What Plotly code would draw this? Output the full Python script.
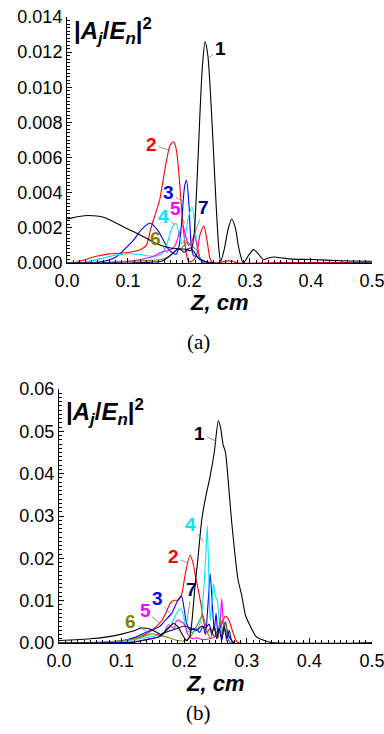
import plotly.graph_objects as go

# ---------------- data: panel (a) ----------------
z1a = [0.0, 0.02, 0.035, 0.06, 0.09, 0.12, 0.15, 0.17, 0.185, 0.195, 0.203, 0.208, 0.213, 0.218, 0.222, 0.2265, 0.231, 0.235, 0.24, 0.245, 0.249, 0.252, 0.258, 0.264, 0.27, 0.276, 0.282, 0.289, 0.297, 0.306, 0.314, 0.322, 0.33, 0.339, 0.35, 0.37, 0.4, 0.45, 0.5]
v1a = [0.0025, 0.00265, 0.0027, 0.0026, 0.0021, 0.0016, 0.00105, 0.00085, 0.0008, 0.00078, 0.0007, 0.0015, 0.0045, 0.0085, 0.0112, 0.0126, 0.0118, 0.0098, 0.0065, 0.003, 0.0008, 0.0001, 0.0008, 0.0019, 0.0025, 0.002, 0.0008, 0.0, 0.0004, 0.00076, 0.0005, 0.0002, 0.00028, 0.00034, 0.0003, 0.00022, 0.0002, 0.00013, 0.0001]

z2a = [0.0, 0.01, 0.03, 0.05, 0.07, 0.1, 0.12, 0.13, 0.137, 0.145, 0.152, 0.158, 0.163, 0.169, 0.175, 0.179, 0.183, 0.187, 0.191, 0.195, 0.199, 0.205, 0.212, 0.218, 0.2245, 0.23, 0.235, 0.24, 0.26, 0.27, 0.28, 0.35, 0.45, 0.5]
v2a = [0.0, 0.0, 0.0002, 0.0004, 0.00052, 0.0006, 0.00075, 0.001, 0.0019, 0.0028, 0.0036, 0.0048, 0.0058, 0.0067, 0.0069, 0.0065, 0.0053, 0.0035, 0.0019, 0.0007, 0.0001, 0.0001, 0.0004, 0.0016, 0.0021, 0.0012, 0.0002, 0.0, 0.0001, 0.00012, 0.0, 0.00003, 0.00002, 0.0]

z3a = [0.0, 0.03, 0.06, 0.081, 0.095, 0.109, 0.122, 0.136, 0.148, 0.158, 0.166, 0.174, 0.179, 0.184, 0.189, 0.193, 0.196, 0.2, 0.204, 0.208, 0.212, 0.218, 0.225, 0.235, 0.5]
v3a = [0.0, 0.0, 0.0001, 0.00036, 0.0008, 0.0013, 0.0019, 0.00228, 0.0019, 0.0013, 0.0008, 0.00055, 0.0005, 0.001, 0.0028, 0.0044, 0.0047, 0.0033, 0.0009, 0.0004, 0.0004, 0.0002, 0.0001, 0.0, 0.0]

z4a = [0.0, 0.02, 0.05, 0.08, 0.1, 0.12, 0.14, 0.155, 0.165, 0.172, 0.1787, 0.184, 0.188, 0.193, 0.199, 0.205, 0.209, 0.213, 0.218, 0.225, 0.5]
v4a = [0.0, 0.0, 0.0002, 0.00045, 0.00053, 0.00048, 0.00038, 0.0005, 0.0012, 0.002, 0.00226, 0.0016, 0.0011, 0.0014, 0.0026, 0.0032, 0.0024, 0.001, 0.0002, 0.0, 0.0]

z5a = [0.0, 0.05, 0.1, 0.12, 0.14, 0.155, 0.165, 0.172, 0.178, 0.184, 0.19, 0.195, 0.199, 0.204, 0.209, 0.214, 0.219, 0.225, 0.5]
v5a = [0.0, 0.0, 0.0001, 0.0002, 0.00035, 0.00062, 0.0007, 0.0008, 0.00104, 0.0017, 0.0021, 0.0015, 0.001, 0.0012, 0.00155, 0.0009, 0.0002, 0.0, 0.0]

z6a = [0.0, 0.05, 0.1, 0.136, 0.155, 0.168, 0.178, 0.186, 0.192, 0.197, 0.203, 0.2125, 0.218, 0.225, 0.5]
v6a = [0.0, 0.0, 0.0001, 0.00015, 0.0002, 0.0004, 0.0007, 0.0008, 0.001, 0.0012, 0.001, 0.00074, 0.0003, 0.0, 0.0]

z7a = [0.0, 0.1, 0.14, 0.155, 0.165, 0.175, 0.182, 0.187, 0.192, 0.198, 0.203, 0.209, 0.215, 0.222, 0.23, 0.24, 0.5]
v7a = [0.0, 0.0, 0.00005, 0.0001, 0.0003, 0.0006, 0.0008, 0.00075, 0.0006, 0.0008, 0.00085, 0.0006, 0.0003, 0.00015, 0.00005, 0.0, 0.0]

# ---------------- data: panel (b) ----------------
z1b = [0.0, 0.05, 0.08, 0.1, 0.12, 0.13, 0.145, 0.155, 0.163, 0.173, 0.183, 0.19, 0.197, 0.204, 0.209, 0.213, 0.217, 0.222, 0.228, 0.235, 0.241, 0.248, 0.2545, 0.258, 0.262, 0.266, 0.27, 0.275, 0.28, 0.286, 0.292, 0.298, 0.305, 0.315, 0.326, 0.34, 0.5]
v1b = [0.0006, 0.001, 0.0015, 0.0021, 0.0029, 0.0035, 0.0033, 0.0026, 0.002, 0.0033, 0.0046, 0.0038, 0.002, 0.0005, 0.0015, 0.006, 0.013, 0.02, 0.029, 0.035, 0.039, 0.045, 0.0525, 0.051, 0.047, 0.045, 0.039, 0.03, 0.0225, 0.015, 0.0112, 0.0065, 0.0042, 0.0015, 0.0007, 0.0001, 0.0]

z2b = [0.0, 0.06, 0.1, 0.12, 0.14, 0.155, 0.165, 0.172, 0.178, 0.184, 0.19, 0.196, 0.202, 0.2093, 0.214, 0.219, 0.2226, 0.227, 0.2306, 0.236, 0.242, 0.248, 0.254, 0.26, 0.2655, 0.27, 0.2735, 0.279, 0.285, 0.5]
v2b = [0.0, 0.0, 0.0004, 0.001, 0.0022, 0.0038, 0.0055, 0.0075, 0.0095, 0.0101, 0.0101, 0.0115, 0.0165, 0.0208, 0.019, 0.015, 0.0125, 0.009, 0.0054, 0.0025, 0.0035, 0.0015, 0.003, 0.0045, 0.0063, 0.0058, 0.0046, 0.002, 0.0002, 0.0]

z3b = [0.0, 0.05, 0.1, 0.12, 0.14, 0.16, 0.17, 0.18, 0.19, 0.196, 0.2, 0.204, 0.21, 0.218, 0.225, 0.23, 0.234, 0.238, 0.2415, 0.245, 0.248, 0.251, 0.254, 0.257, 0.26, 0.263, 0.266, 0.27, 0.274, 0.28, 0.5]
v3b = [0.0, 0.0, 0.0005, 0.0013, 0.0026, 0.0038, 0.0054, 0.007, 0.0101, 0.011, 0.008, 0.0046, 0.003, 0.0035, 0.0025, 0.004, 0.002, 0.009, 0.0164, 0.009, 0.003, 0.007, 0.0015, 0.005, 0.001, 0.004, 0.005, 0.002, 0.001, 0.0, 0.0]

z4b = [0.0, 0.08, 0.12, 0.15, 0.165, 0.1775, 0.186, 0.1935, 0.199, 0.204, 0.212, 0.22, 0.226, 0.231, 0.235, 0.237, 0.2395, 0.2415, 0.2445, 0.2468, 0.25, 0.253, 0.257, 0.261, 0.265, 0.27, 0.275, 0.5]
v4b = [0.0, 0.0002, 0.0008, 0.0016, 0.0022, 0.0038, 0.0065, 0.0081, 0.0065, 0.003, 0.0025, 0.003, 0.005, 0.012, 0.022, 0.0276, 0.015, 0.0054, 0.01, 0.014, 0.011, 0.0101, 0.0038, 0.002, 0.003, 0.001, 0.0, 0.0]

z5b = [0.0, 0.1, 0.12, 0.14, 0.16, 0.168, 0.175, 0.18, 0.184, 0.188, 0.193, 0.2, 0.206, 0.213, 0.22, 0.23, 0.24, 0.25, 0.256, 0.26, 0.263, 0.266, 0.27, 0.5]
v5b = [0.0, 0.0, 0.0003, 0.0008, 0.0015, 0.0025, 0.0043, 0.0038, 0.0034, 0.0054, 0.0052, 0.0045, 0.002, 0.001, 0.0012, 0.0008, 0.001, 0.0015, 0.003, 0.0105, 0.004, 0.0025, 0.0, 0.0]

z6b = [0.0, 0.08, 0.12, 0.14, 0.15, 0.16, 0.17, 0.18, 0.19, 0.2, 0.21, 0.22, 0.2297, 0.236, 0.242, 0.248, 0.254, 0.258, 0.262, 0.266, 0.27, 0.275, 0.5]
v6b = [0.0, 0.0003, 0.001, 0.0018, 0.0022, 0.0018, 0.0015, 0.001, 0.0006, 0.0005, 0.0015, 0.004, 0.0066, 0.003, 0.001, 0.004, 0.001, 0.006, 0.002, 0.005, 0.001, 0.0, 0.0]

z7b = [0.0, 0.12, 0.14, 0.16, 0.17, 0.18, 0.19, 0.2, 0.21, 0.22, 0.228, 0.234, 0.24, 0.244, 0.248, 0.252, 0.256, 0.26, 0.264, 0.268, 0.272, 0.278, 0.5]
v7b = [0.0, 0.0002, 0.0008, 0.0015, 0.0025, 0.003, 0.0035, 0.004, 0.0035, 0.003, 0.004, 0.0035, 0.0045, 0.002, 0.004, 0.001, 0.0035, 0.0005, 0.004, 0.001, 0.003, 0.0, 0.0]

series_names = ["1", "2", "3", "4", "5", "6", "7"]
colors = ["#000000", "#ff0000", "#0000ff", "#00e5ff", "#ff00ff", "#808000", "#000080"]

# label positions (label z, label v, curve z, curve v)
labels_a = [(0.251, 0.0122, 0.2317, 0.01165), (0.139, 0.00677, 0.169, 0.0064),
            (0.167, 0.0040, 0.190, 0.00349), (0.159, 0.00264, 0.177, 0.00216),
            (0.1787, 0.0031, 0.1934, 0.00226), (0.1459, 0.0014, 0.166, 0.00055),
            (0.2246, 0.00316, 0.2098, 0.0017)]
labels_b = [(0.2252, 0.0495, 0.252, 0.0476), (0.1837, 0.0204, 0.2066, 0.0188),
            (0.157, 0.0106, 0.1773, 0.007), (0.2104, 0.0279, 0.2316, 0.0239),
            (0.1374, 0.0076, 0.1613, 0.0046), (0.115, 0.005, 0.1454, 0.0023),
            (0.212, 0.0127, 0.204, 0.0046)]

series_a = [(z1a, v1a), (z2a, v2a), (z3a, v3a), (z4a, v4a), (z5a, v5a), (z6a, v6a), (z7a, v7a)]
series_b = [(z1b, v1b), (z2b, v2b), (z3b, v3b), (z4b, v4b), (z5b, v5b), (z6b, v6b), (z7b, v7b)]

fig = go.Figure()
order = [1, 2, 3, 4, 5, 6, 0]
for i in order:
    z, v = series_a[i]
    fig.add_trace(go.Scatter(x=z, y=v, mode="lines", xaxis="x", yaxis="y",
                             line=dict(color=colors[i], width=1.1, shape="spline", smoothing=0.7),
                             name=series_names[i], showlegend=False, hoverinfo="skip"))
for i in order:
    z, v = series_b[i]
    fig.add_trace(go.Scatter(x=z, y=v, mode="lines", xaxis="x2", yaxis="y2",
                             line=dict(color=colors[i], width=1.1, shape="spline", smoothing=0.6),
                             name=series_names[i], showlegend=False, hoverinfo="skip"))

FONT = "Liberation Sans, Arial, sans-serif"
annotations = []
for (lab, (lx, ly, cx, cy), col) in zip(series_names, labels_a, colors):
    annotations.append(dict(x=cx, y=cy, ax=lx, ay=ly, xref="x", yref="y", axref="x", ayref="y",
                            text="<b>%s</b>" % lab, showarrow=True, arrowhead=0, arrowwidth=0.8,
                            arrowcolor="#777777", font=dict(family=FONT, size=19, color=col)))
for (lab, (lx, ly, cx, cy), col) in zip(series_names, labels_b, colors):
    annotations.append(dict(x=cx, y=cy, ax=lx, ay=ly, xref="x2", yref="y2", axref="x2", ayref="y2",
                            text="<b>%s</b>" % lab, showarrow=True, arrowhead=0, arrowwidth=0.8,
                            arrowcolor="#777777", font=dict(family=FONT, size=19, color=col)))

W, H = 384, 734
ytitle = "<b>|<i>A</i><sub><i>j</i></sub>/<i>E</i><sub><i>n</i></sub>|<sup>2</sup></b>"
annotations.append(dict(x=72 / W, y=1 - 31 / H, xref="paper", yref="paper", xanchor="left", yanchor="middle",
                        text=ytitle, showarrow=False, font=dict(family=FONT, size=24, color="black")))
annotations.append(dict(x=64 / W, y=1 - 412 / H, xref="paper", yref="paper", xanchor="left", yanchor="middle",
                        text=ytitle, showarrow=False, font=dict(family=FONT, size=24, color="black")))
for (yc, xc) in [(302, 219), (683, 215)]:
    annotations.append(dict(x=xc / W, y=1 - yc / H, xref="paper", yref="paper", xanchor="center", yanchor="middle",
                            text="<b><i>Z, cm</i></b>", showarrow=False, font=dict(family=FONT, size=22, color="black")))
for (yc, t) in [(342, "(a)"), (713, "(b)")]:
    annotations.append(dict(x=198 / W, y=1 - yc / H, xref="paper", yref="paper", xanchor="center", yanchor="middle",
                            text=t, showarrow=False, font=dict(family="Liberation Serif, serif", size=21, color="black")))

axis_common = dict(showline=True, linecolor="black", linewidth=1, showgrid=False, zeroline=False,
                   ticks="inside", ticklen=5, tickcolor="black", tickwidth=1, automargin=False,
                   ticklabeloverflow="allow",
                   tickfont=dict(family=FONT, size=18, color="black"), mirror=False)
minor_common = dict(ticks="inside", ticklen=3, tickcolor="black", tickwidth=1, showgrid=False)

fig.update_layout(
    template="none",
    width=W, height=H, margin=dict(l=0, r=0, t=0, b=0, autoexpand=False),
    paper_bgcolor="white", plot_bgcolor="white", hovermode=False,
    xaxis=dict(domain=[67 / W, 372 / W], anchor="y", range=[0, 0.5001], dtick=0.1, tickformat=".1f",
               ticklabelstandoff=1, minor=dict(dtick=0.01, **minor_common), **axis_common),
    yaxis=dict(domain=[1 - 263 / H, 1 - 17 / H], anchor="x", range=[0, 0.014], dtick=0.002, tickformat=".3f",
               minor=dict(dtick=0.0002, **minor_common), **axis_common),
    xaxis2=dict(domain=[59 / W, 372 / W], anchor="y2", range=[0, 0.5001], dtick=0.1, tickformat=".1f",
                ticklabelstandoff=1, minor=dict(dtick=0.01, **minor_common), **axis_common),
    yaxis2=dict(domain=[1 - 643 / H, 1 - 389 / H], anchor="x2", range=[0, 0.06], dtick=0.01, tickformat=".2f",
                minor=dict(dtick=0.001, **minor_common), **axis_common),
    annotations=annotations,
)

fig.write_html("out.html", config={"displayModeBar": False, "staticPlot": True},
               post_script="document.body.style.margin='0';document.body.style.overflow='hidden';")
